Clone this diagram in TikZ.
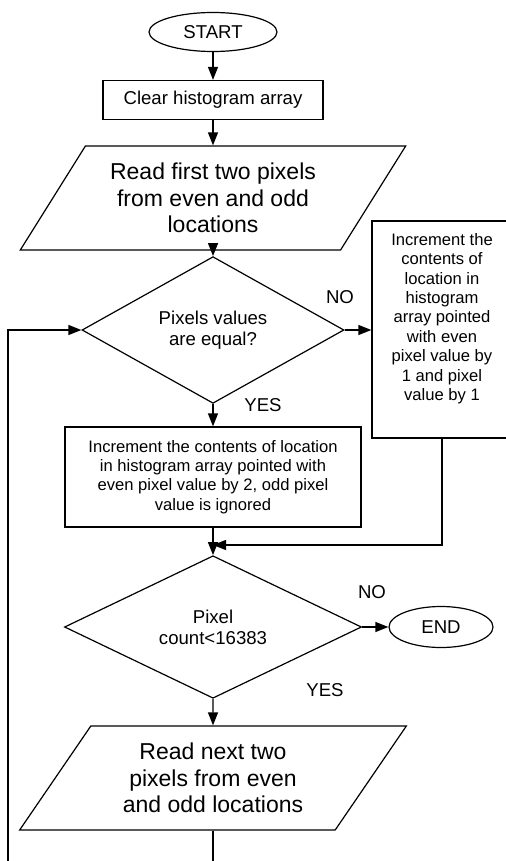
\documentclass[tikz,border=0pt]{standalone}
\usepackage{fontspec}
\setmainfont{Liberation Sans}
\usetikzlibrary{positioning,shapes.geometric,arrows.meta,calc}

\tikzset{
  >={Triangle[length=6.5pt,width=5pt]},
  every node/.style={font=\fontsize{9.3}{10.4}\selectfont},
  % --- nodes
  term/.style  = {ellipse, draw, line width=0.6pt, inner sep=0pt},
  proc/.style  = {rectangle, draw, line width=0.6pt, align=center, inner sep=2pt},
  io/.style    = {trapezium, trapezium left angle=53, trapezium right angle=127,
                  trapezium stretches=true, draw, line width=0.6pt, align=center,
                  inner sep=0pt, font=\fontsize{11.5}{13.2}\selectfont},
  dec/.style   = {diamond, draw, line width=0.6pt, align=center, inner sep=0pt},
  small/.style = {font=\fontsize{8.3}{9.7}\selectfont},
  lbl/.style   = {inner sep=0pt},
  % --- edges
  e/.style     = {->, line width=0.65pt},
}

\begin{document}
\begin{tikzpicture}[x=0.5pt, y=-0.5pt]
  \useasboundingbox (0,0) rectangle (506,861);

  \node[term, minimum width=64pt, minimum height=19.5pt] (start) at (213,32) {START};
  \node[proc, minimum width=110pt, minimum height=19.5pt] (clear) at (213,100)
    {Clear histogram array};
  \node[io, minimum width=193pt, minimum height=52pt] (read1) at (213,198)
    {Read first two pixels\\from even and odd\\locations};
  \node[dec, minimum width=131pt, minimum height=51.5pt] (equal) at (213,330)
    {Pixels values\\are equal?};
  \node[proc, small, minimum width=70pt, minimum height=108.5pt] (addone) at (442,329.5)
    {Increment the\\contents of\\location in\\histogram\\array pointed\\with even\\pixel value by\\1 and pixel\\value by 1\\[3pt]};
  \node[proc, small, minimum width=148pt, minimum height=50pt] (addtwo) at (213,477)
    {Increment the contents of location\\in histogram array pointed with\\even pixel value by 2, odd pixel\\value is ignored};
  \node[dec, minimum width=148.5pt, minimum height=54pt] (count) at (213,627)
    {Pixel\\count<16383};
  \node[term, minimum width=52pt, minimum height=20.5pt] (end) at (441,627) {END};
  \node[io, minimum width=193.5pt, minimum height=52pt] (read2) at (213,778)
    {Read next two\\pixels from even\\and odd locations};

  \node[lbl] (no1)  at (340,297) {NO};
  \node[lbl] (yes1) at (263,405) {YES};
  \node[lbl] (no2)  at (372,592) {NO};
  \node[lbl] (yes2) at (325,690) {YES};

  \coordinate (merge)   at (213,545);
  \coordinate (loopbot) at (8,900);

  \draw[e] (start) -- (clear);
  \draw[e] (clear) -- (read1);
  \draw[e] (read1) -- (equal);
  \draw[e] (equal.east) -- (equal.east -| addone.west);
  \draw[e] (equal) -- (addtwo);
  \draw[e] (addtwo) -- (count);
  \draw[e] (addone.south) |- (merge);
  \draw[e] (count) -- (end);
  \draw[e] (count) -- (read2);
  \draw[e] (read2.south) |- (loopbot) |- (equal.west);
\end{tikzpicture}
\end{document}
